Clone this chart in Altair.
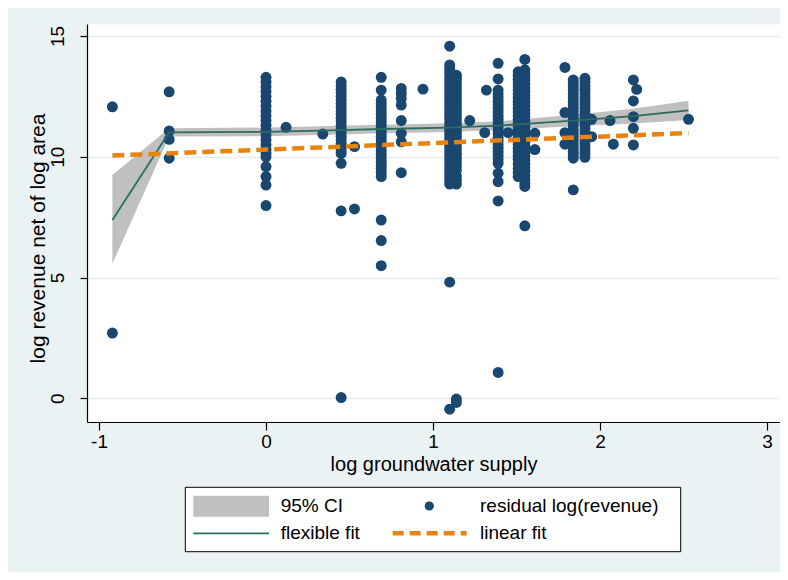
import altair as alt
import pandas as pd

# ---------------- data ----------------
# scatter: x position of each column of dots and the y values in it
col_x = [-0.92, -0.58, 0.00, 0.12, 0.34, 0.45, 0.53, 0.69, 0.81, 0.94,
         1.10, 1.14, 1.22, 1.31, 1.32, 1.39, 1.45, 1.51, 1.55, 1.61,
         1.79, 1.84, 1.91, 1.95, 2.06, 2.08, 2.20, 2.22, 2.53]
col_y = [
    [12.07, 2.70],
    [12.69, 11.07, 10.72, 9.94],
    [13.29, 13.10, 12.90, 12.70, 12.50, 12.30, 12.10, 11.90, 11.70, 11.50, 11.30, 11.10,
     10.90, 10.70, 10.50, 10.30, 10.15, 10.00, 9.59, 9.18, 8.83, 7.98],
    [11.22],
    [10.94],
    [13.10, 12.95, 12.80, 12.65, 12.50, 12.35, 12.20, 12.05, 11.90, 11.75, 11.60, 11.45,
     11.30, 11.15, 11.00, 10.85, 10.70, 10.55, 10.40, 10.27, 10.14, 9.73, 7.76, 0.03],
    [10.42, 7.84],
    [13.29, 12.76, 12.35, 12.20, 12.05, 11.90, 11.75, 11.60, 11.45, 11.30, 11.15, 11.00,
     10.85, 10.70, 10.55, 10.40, 10.25, 10.10, 9.95, 9.80, 9.65, 9.50, 9.35, 9.18,
     7.38, 6.53, 5.49],
    [12.83, 12.62, 12.41, 12.14, 11.50, 10.97, 10.62, 9.34],
    [12.80],
    [14.58, 13.80, 13.65, 13.50, 13.35, 13.20, 13.05, 12.90, 12.75, 12.60, 12.45, 12.30,
     12.15, 12.00, 11.85, 11.70, 11.55, 11.40, 11.25, 11.10, 10.95, 10.80, 10.65, 10.50,
     10.35, 10.20, 10.05, 9.90, 9.75, 9.60, 9.45, 9.30, 9.15, 9.00, 8.87, 4.81, -0.45],
    [13.38, 13.25, 13.10, 12.95, 12.80, 12.65, 12.50, 12.35, 12.20, 12.05, 11.90, 11.75,
     11.60, 11.45, 11.30, 11.15, 11.00, 10.85, 10.70, 10.55, 10.40, 10.25, 10.10, 9.95,
     9.80, 9.63, 9.45, 9.20, 9.03, 8.87, -0.03, -0.17],
    [11.50],
    [11.00],
    [12.76],
    [13.87, 13.22, 12.76, 12.60, 12.45, 12.30, 12.15, 12.00, 11.85, 11.70, 11.55, 11.40,
     11.25, 11.10, 10.95, 10.80, 10.65, 10.50, 10.35, 10.20, 10.05, 9.89, 9.73, 9.32,
     8.97, 8.17, 1.07],
    [11.00],
    [13.52, 13.36, 13.20, 13.05, 12.90, 12.75, 12.60, 12.45, 12.30, 12.15, 12.00, 11.85,
     11.70, 11.55, 11.40, 11.25, 11.10, 10.95, 10.80, 10.65, 10.50, 10.35, 10.20, 10.05,
     9.90, 9.70, 9.50, 9.34, 9.18],
    [14.03, 13.60, 13.45, 13.30, 13.15, 13.00, 12.85, 12.70, 12.55, 12.40, 12.25, 12.10,
     11.95, 11.80, 11.65, 11.50, 11.35, 11.20, 11.05, 10.90, 10.75, 10.60, 10.45, 10.30,
     10.15, 10.00, 9.85, 9.70, 9.55, 9.40, 9.22, 9.05, 8.90, 8.77, 7.14],
    [10.97, 10.30],
    [13.70, 11.83, 11.00, 10.52],
    [13.18, 13.04, 12.90, 12.75, 12.60, 12.45, 12.30, 12.15, 12.00, 11.85, 11.70, 11.55,
     11.40, 11.25, 11.10, 10.95, 10.80, 10.65, 10.50, 10.35, 10.20, 10.07, 9.94, 8.63],
    [13.25, 13.10, 12.95, 12.80, 12.65, 12.50, 12.35, 12.20, 12.05, 11.90, 11.75, 11.60,
     11.45, 11.30, 11.15, 11.00, 10.85, 10.70, 10.55, 10.40, 10.25, 10.12, 9.98],
    [11.55, 10.83],
    [11.50],
    [10.52],
    [13.18, 12.31, 11.66, 11.18, 10.49],
    [12.79],
    [11.55],
]

# flexible fit and its 95% CI
fit_x = [-0.92, -0.58, 0.00, 0.45, 0.69, 1.10, 1.39, 1.55, 1.84, 2.20, 2.53]
fit_y = [7.38, 11.01, 11.03, 11.10, 11.15, 11.21, 11.29, 11.36, 11.50, 11.68, 11.92]
ci_lo = [5.57, 10.84, 10.85, 10.92, 10.97, 11.03, 11.11, 11.16, 11.26, 11.38, 11.52]
ci_hi = [9.25, 11.18, 11.21, 11.28, 11.33, 11.39, 11.47, 11.56, 11.74, 11.99, 12.32]

# linear fit
lin_x = [-0.92, 2.53]
lin_y = [10.05, 10.98]

x_ticks = [-1, 0, 1, 2, 3]
y_ticks = [0, 5, 10, 15]
legend_labels = ["95% CI", "residual log(revenue)", "flexible fit", "linear fit"]

# ---------------- styling ----------------
BG = "#EAF2F3"
NAVY = "#1A476F"
GREEN = "#2E6B5F"
ORANGE = "#E8830E"
GRAY = "#C0C0C0"
FONT = "Liberation Sans"
W, H = 693, 398

scatter_df = pd.DataFrame(
    [{"x": x, "y": y} for x, ys in zip(col_x, col_y) for y in ys]
)
fit_df = pd.DataFrame({"x": fit_x, "fit": fit_y, "lo": ci_lo, "hi": ci_hi})
lin_df = pd.DataFrame({"x": lin_x, "y": lin_y})

xscale = alt.Scale(domain=[-1.072, 3.078], nice=False, zero=False)
yscale = alt.Scale(domain=[-0.981, 15.497], nice=False, zero=False)

xaxis = alt.Axis(
    values=x_ticks, title="log groundwater supply", grid=False,
    labelExpr="'' + datum.value", tickSize=8, labelPadding=2,
    labelFontSize=19, titleFontSize=20, titleBaseline="top", titleY=32,
    labelFlush=False,
)
yaxis = alt.Axis(
    values=y_ticks, title="log revenue net of log area", grid=True,
    gridColor="#E4EDEF", gridWidth=1.5,
    labelAngle=270, labelAlign="center", labelBaseline="bottom",
    tickSize=7, labelPadding=13, labelFontSize=19, labelFlush=False,
    titleFontSize=21, titleAngle=270, titleAlign="center",
    titleBaseline="middle", titleX=-49, titleY=214,
)

ci = alt.Chart(fit_df).mark_area(color=GRAY, opacity=1).encode(
    x=alt.X("x:Q", scale=xscale, axis=xaxis),
    y=alt.Y("lo:Q", scale=yscale, axis=yaxis),
    y2="hi:Q",
)
points = alt.Chart(scatter_df).mark_circle(size=120, color=NAVY, opacity=1).encode(
    x=alt.X("x:Q", scale=xscale),
    y=alt.Y("y:Q", scale=yscale),
)
flex = alt.Chart(fit_df).mark_line(color=GREEN, strokeWidth=1.8).encode(
    x=alt.X("x:Q", scale=xscale),
    y=alt.Y("fit:Q", scale=yscale),
)
lin = alt.Chart(lin_df).mark_line(
    color=ORANGE, strokeWidth=4.5, strokeDash=[12, 6]
).encode(
    x=alt.X("x:Q", scale=xscale),
    y=alt.Y("y:Q", scale=yscale),
)

# ---------------- legend (drawn below the plot) ----------------
one = pd.DataFrame({"k": [0]})
box = alt.Chart(one).mark_rect(fill="white", stroke="black", strokeWidth=1).encode(
    x=alt.value(98.3), x2=alt.value(593.7), y=alt.value(463.3), y2=alt.value(527.7)
)
ci_sym = alt.Chart(one).mark_rect(fill=GRAY).encode(
    x=alt.value(106.3), x2=alt.value(182), y=alt.value(471.7), y2=alt.value(492.7)
)
dot_sym = alt.Chart(one).mark_circle(size=85, color=NAVY, opacity=1).encode(
    x=alt.value(342.3), y=alt.value(482)
)
flex_sym = alt.Chart(one).mark_rule(color=GREEN, strokeWidth=1.8).encode(
    x=alt.value(106.3), x2=alt.value(182), y=alt.value(509.3)
)
lin_sym = alt.Chart(one).mark_rule(color=ORANGE, strokeWidth=4.5, strokeDash=[11, 6]).encode(
    x=alt.value(305.7), x2=alt.value(379.7), y=alt.value(509.3)
)


def label(txt, px, py):
    return alt.Chart(one).mark_text(
        text=txt, align="left", baseline="middle", font=FONT, fontSize=19, color="black"
    ).encode(x=alt.value(px), y=alt.value(py))


texts = [
    label(legend_labels[0], 193.7, 482),
    label(legend_labels[1], 393, 482),
    label(legend_labels[2], 193.7, 509.3),
    label(legend_labels[3], 393, 509.3),
]

chart = alt.layer(
    ci, points, flex, lin, box, ci_sym, dot_sym, flex_sym, lin_sym, *texts
).properties(
    width=W, height=H,
    autosize=alt.AutoSizeParams(type="none"),
    padding={"left": 79, "top": 16, "right": 0, "bottom": 150},
    background=BG,
).configure_view(
    fill="white", strokeOpacity=0,
).configure_axis(
    domainColor="black", domainWidth=1.2, tickColor="black", tickWidth=1.2,
    labelColor="black", titleColor="black", labelFont=FONT, titleFont=FONT,
    titleFontWeight="normal",
)

chart.save("out.html", embed_options={"renderer": "svg", "actions": False})
